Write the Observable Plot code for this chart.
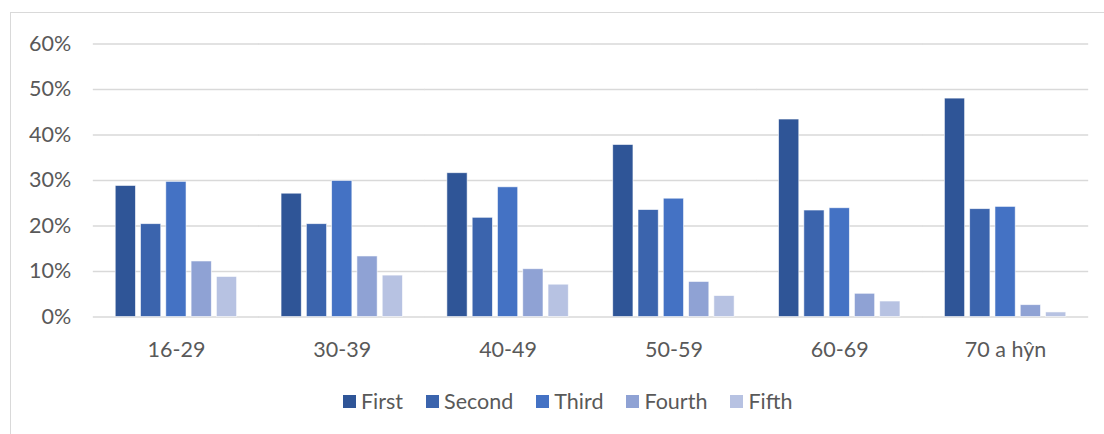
<!DOCTYPE html>
<html>
<head>
<meta charset="utf-8">
<script src="https://cdn.jsdelivr.net/npm/d3@7"></script>
<script src="https://cdn.jsdelivr.net/npm/@observablehq/plot@0.6"></script>
<style>
  html, body { margin: 0; padding: 0; background: #fff; }
  #wrap { position: relative; width: 1104px; height: 434px; overflow: hidden; background: #fff; font-family: Lato, "Noto Sans", sans-serif; }
  #frame { position: absolute; left: 10px; top: 12px; width: 1200px; height: 600px; border: 1.5px solid #D9D9D9; box-sizing: border-box; }
  #chart { position: absolute; left: 0; top: 0; }
  #legend { position: absolute; left: 343px; top: 388px; display: flex; align-items: center; gap: 23px; font-size: 21.5px; color: #595959; white-space: nowrap; }
  .item { display: flex; align-items: center; }
  .sw { width: 13px; height: 13px; margin-right: 5px; display: inline-block; }
</style>
</head>
<body>
<div id="wrap">
  <div id="frame"></div>
  <div id="chart"></div>
  <div id="legend"></div>
</div>
<script>
const categories = ["16-29", "30-39", "40-49", "50-59", "60-69", "70 a hŷn"];
const seriesNames = ["First", "Second", "Third", "Fourth", "Fifth"];
const first  = [28.8, 27.1, 31.6, 37.8, 43.4, 48.0];
const second = [20.4, 20.4, 21.8, 23.5, 23.4, 23.7];
const third  = [29.7, 29.9, 28.5, 26.0, 23.9, 24.2];
const fourth = [12.2, 13.3, 10.5, 7.7, 5.1, 2.6];
const fifth  = [8.8, 9.1, 7.1, 4.6, 3.4, 1.0];
const yTicks = [0, 10, 20, 30, 40, 50, 60];
const colors = ["#2F5597", "#3B64AD", "#4472C4", "#8FA2D4", "#B7C2E2"];

const seriesValues = [first, second, third, fourth, fifth];
const rows = [];
categories.forEach((c, i) => {
  seriesNames.forEach((s, j) => {
    rows.push({category: c, series: s, value: seriesValues[j][i]});
  });
});

const chart = Plot.plot({
  width: 1104,
  height: 370,
  marginLeft: 93,
  marginRight: 16,
  marginTop: 43.5,
  marginBottom: 53.5,
  style: {fontFamily: "Lato, 'Noto Sans', sans-serif", fontSize: "21.5px", color: "#595959", background: "transparent"},
  fx: {domain: categories, paddingInner: 0.268, paddingOuter: 0.134, round: false, label: null, axis: "bottom", tickSize: 0, tickPadding: 25},
  x: {domain: seriesNames, paddingInner: 0.2, paddingOuter: 0, round: false, axis: null},
  y: {domain: [0, 60], ticks: yTicks, tickFormat: d => d + "%", label: null, tickSize: 0, tickPadding: 44.5},
  color: {domain: seriesNames, range: colors},
  marks: [
    Plot.ruleY(yTicks, {stroke: "#D9D9D9", strokeWidth: 1.5, insetLeft: -22.4, insetRight: -22.4}),
    Plot.barY(rows, {fx: "category", x: "series", y: "value", fill: "series", stroke: "white", strokeWidth: 0.8, strokeOpacity: 0.7})
  ]
});
document.getElementById("chart").appendChild(chart);

const legend = document.getElementById("legend");
seriesNames.forEach((s, j) => {
  const item = document.createElement("div");
  item.className = "item";
  const sw = document.createElement("span");
  sw.className = "sw";
  sw.style.background = colors[j];
  const t = document.createElement("span");
  t.textContent = s;
  item.appendChild(sw);
  item.appendChild(t);
  legend.appendChild(item);
});
</script>
</body>
</html>
